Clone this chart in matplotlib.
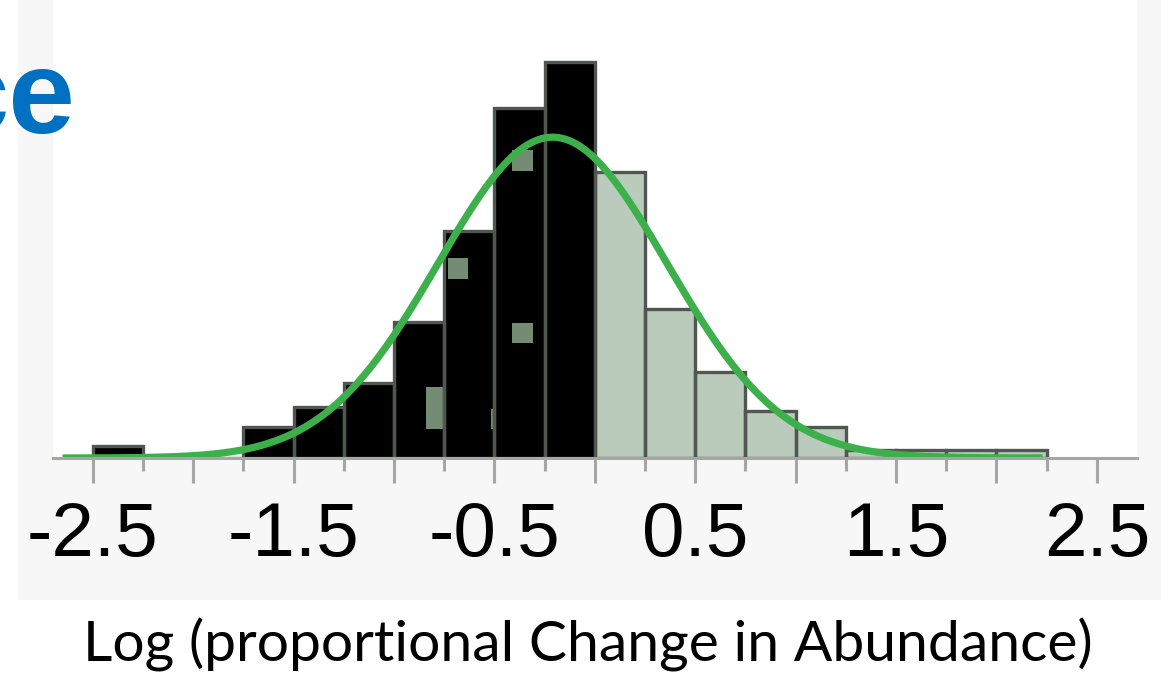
import numpy as np
import matplotlib
matplotlib.use("Agg")
import matplotlib.pyplot as plt
from matplotlib.patches import Rectangle
from matplotlib.ticker import FixedLocator

# Histogram of log proportional change in abundance (bin width 0.25)
bin_left = [-2.5, -2.25, -2.0, -1.75, -1.5, -1.25, -1.0, -0.75, -0.5, -0.25,
            0.0, 0.25, 0.5, 0.75, 1.0, 1.25, 1.5, 1.75, 2.0]
counts = [1.5, 0, 0, 3.9, 6.4, 9.4, 17.0, 28.4, 43.8, 49.5,
          35.8, 18.6, 10.8, 5.9, 3.9, 1.0, 1.0, 1.0, 1.0]
bin_width = 0.25

# Fitted normal curve parameters
fit_mu = -0.21
fit_sigma = 0.57
fit_peak = 40.1
fit_range = (-2.65, 2.23)

# Small grey-green patches showing through the declining bins
patch_x0 = [-0.413, -0.732, -0.413, -0.842, -0.518]
patch_x1 = [-0.309, -0.632, -0.309, -0.757, -0.503]
patch_y0 = [35.9, 22.4, 14.4, 3.6, 3.6]
patch_y1 = [38.5, 25.0, 16.9, 8.9, 6.1]

major_ticks = [-2.5, -2.0, -1.5, -1.0, -0.5, 0.0, 0.5, 1.0, 1.5, 2.0, 2.5]
major_labels = ["-2.5", "", "-1.5", "", "-0.5", "", "0.5", "", "1.5", "", "2.5"]
minor_ticks = [-2.25, -1.75, -1.25, -0.75, -0.25, 0.25, 0.75, 1.25, 1.75, 2.25]

W, H = 1173, 680
fig = plt.figure(figsize=(W / 100, H / 100), dpi=100)
fig.patch.set_facecolor("white")

# light grey slide panel behind the chart
fig.add_artist(Rectangle((18 / W, (H - 600) / H), (1161 - 18) / W, 600 / H,
                         transform=fig.transFigure, facecolor="#f7f7f7",
                         edgecolor="none", zorder=-1))

ax = fig.add_axes([52.5 / W, (H - 458) / H, (1137 - 52.5) / W, 458 / H])
ax.set_facecolor("white")
ax.set_xlim(-2.7, 2.7)
ax.set_ylim(0, 57.25)

decrease_col = "#000000"
increase_col = "#bacabb"
edge_col = "#4f5750"
fills = [decrease_col if b < 0 else increase_col for b in bin_left]

ax.bar(bin_left, counts, width=bin_width, align="edge", color=fills,
       edgecolor="none", zorder=1)
for x0, x1, y0, y1 in zip(patch_x0, patch_x1, patch_y0, patch_y1):
    ax.add_patch(Rectangle((x0, y0), x1 - x0, y1 - y0, facecolor="#748c74",
                           edgecolor="none", zorder=1.5))
ax.bar(bin_left, counts, width=bin_width, align="edge", fill=False,
       edgecolor=edge_col, linewidth=2.4, zorder=2)

xs = np.linspace(fit_range[0], fit_range[1], 400)
ys = fit_peak * np.exp(-0.5 * ((xs - fit_mu) / fit_sigma) ** 2)
ax.plot(xs, ys, color="#3cb04a", linewidth=5.2, solid_capstyle="butt", zorder=3)

for side in ("left", "right", "top"):
    ax.spines[side].set_visible(False)
ax.spines["bottom"].set_color("#a6a6a6")
ax.spines["bottom"].set_linewidth(2.2)
ax.spines["bottom"].set_zorder(4)

ax.set_yticks([])
ax.xaxis.set_major_locator(FixedLocator(major_ticks))
ax.xaxis.set_minor_locator(FixedLocator(minor_ticks))
ax.set_xticklabels(major_labels, fontsize=55, family="Liberation Sans")
ax.tick_params(axis="x", which="major", length=18, width=2.2, color="#a6a6a6",
               pad=13, labelcolor="black")
ax.tick_params(axis="x", which="minor", length=9.4, width=2.2, color="#a6a6a6")

fig.text((85 + 1090) / 2 / W, (H - 662) / H,
         "Log (proportional Change in Abundance)", ha="center", va="baseline",
         fontsize=41, family="Lato", color="black")

fig.text(75 / W, (H - 133) / H, "ce", ha="right", va="baseline",
         fontsize=86, fontweight="bold", family="Liberation Sans",
         color="#0070c0")

fig.savefig("out.png", dpi=100, facecolor="white")
